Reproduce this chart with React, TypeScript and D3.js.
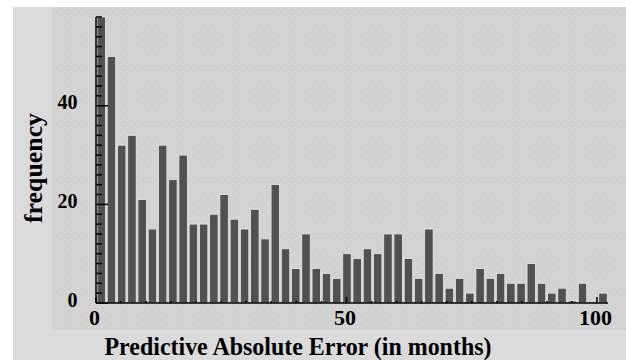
import React from 'react';
import * as d3 from 'd3';

// histogram counts, 50 bins of equal width starting at 0
const counts = [
  58, 50, 32, 34, 21, 15, 32, 25, 30, 16, 16, 18, 22, 17, 15, 19,
  13, 24, 11, 7, 14, 7, 6, 5, 10, 9, 11, 10, 14, 14, 9, 5, 15, 6, 3,
  5, 2, 7, 5, 6, 4, 4, 8, 4, 2, 3, 0.4, 4, 0, 2,
];
const binWidth = 2.044;
const yMax = 58;
const xTickLabels = [0, 50, 100];
const yTickLabels = [0, 20, 40];
const xMinorStep = 5;
const yMinorStep = 2;
const xTitle = 'Predictive Absolute Error (in months)';
const yTitle = 'frequency';

const W = 626;
const H = 360;

export default function App() {
  const x = d3.scaleLinear().domain([0, counts.length * binWidth]).range([96, 608]);
  const y = d3.scaleLinear().domain([0, yMax]).range([303, 17]);

  const xMinor = d3.range(0, 100 + 0.1, xMinorStep);
  const yMinor = d3.range(0, yMax + 0.1, yMinorStep);

  const font = '"Liberation Serif", "Times New Roman", serif';

  return (
    <div style={{ position: 'absolute', left: 0, top: 0 }}>
      <svg width={W} height={H} style={{ display: 'block' }}>
        <defs>
          <pattern id="dots" width="7" height="7" patternUnits="userSpaceOnUse">
            <rect width="7" height="7" fill="#d2d2d2" />
            <circle cx="1.5" cy="1.5" r="0.8" fill="#dddddd" />
            <circle cx="5" cy="5" r="0.8" fill="#dddddd" />
          </pattern>
        </defs>
        <rect x={0} y={0} width={W} height={H} fill="#ffffff" />
        <rect x={13} y={7} width={W - 13} height={H - 7} fill="#dbdbdb" />
        <rect x={52} y={7} width={W - 52} height={330 - 7} fill="url(#dots)" />

        {/* bars */}
        <g>
          {counts.map((c, i) => {
            if (c <= 0) return null;
            const x0 = x(i * binWidth);
            const x1 = x((i + 1) * binWidth);
            return (
              <rect
                key={i}
                x={x0 + 1}
                y={y(c)}
                width={x1 - x0 - 1.8}
                height={y(0) - y(c)}
                fill="#515151"
                stroke="#e9e9e9"
                strokeWidth={0.8}
              />
            );
          })}
        </g>

        {/* y axis */}
        <g stroke="#000" strokeWidth={1.5}>
          <line x1={96} x2={96} y1={y(yMax)} y2={y(0)} />
          {yMinor.map(v => (
            <line key={v} x1={96} x2={yTickLabels.includes(v) ? 108 : 102} y1={y(v)} y2={y(v)} />
          ))}
        </g>
        <g fontFamily={font} fontWeight="bold" fontSize={20} textAnchor="end">
          {yTickLabels.map(v => (
            <text key={v} x={77.5} y={y(v) + 3.5}>{v}</text>
          ))}
        </g>

        {/* x axis */}
        <g stroke="#000" strokeWidth={1.5}>
          <line x1={96} x2={608} y1={303} y2={303} />
          {xMinor.map(v => (
            <line key={v} x1={x(v)} x2={x(v)} y1={303} y2={xTickLabels.includes(v) ? 297 : 301} />
          ))}
        </g>
        <g fontFamily={font} fontWeight="bold" fontSize={22} textAnchor="middle">
          {xTickLabels.map(v => (
            <text key={v} x={x(v) - 1.5} y={324.5}>{v}</text>
          ))}
        </g>

        {/* titles */}
        <text
          x={298}
          y={355}
          textAnchor="middle"
          fontFamily={font}
          fontWeight="bold"
          fontSize={26}
          textLength={387}
          lengthAdjust="spacingAndGlyphs"
        >
          {xTitle}
        </text>
        <text
          transform="translate(42,168) rotate(-90)"
          textAnchor="middle"
          fontFamily={font}
          fontWeight="bold"
          fontSize={25}
          textLength={110}
          lengthAdjust="spacingAndGlyphs"
        >
          {yTitle}
        </text>
      </svg>
    </div>
  );
}
